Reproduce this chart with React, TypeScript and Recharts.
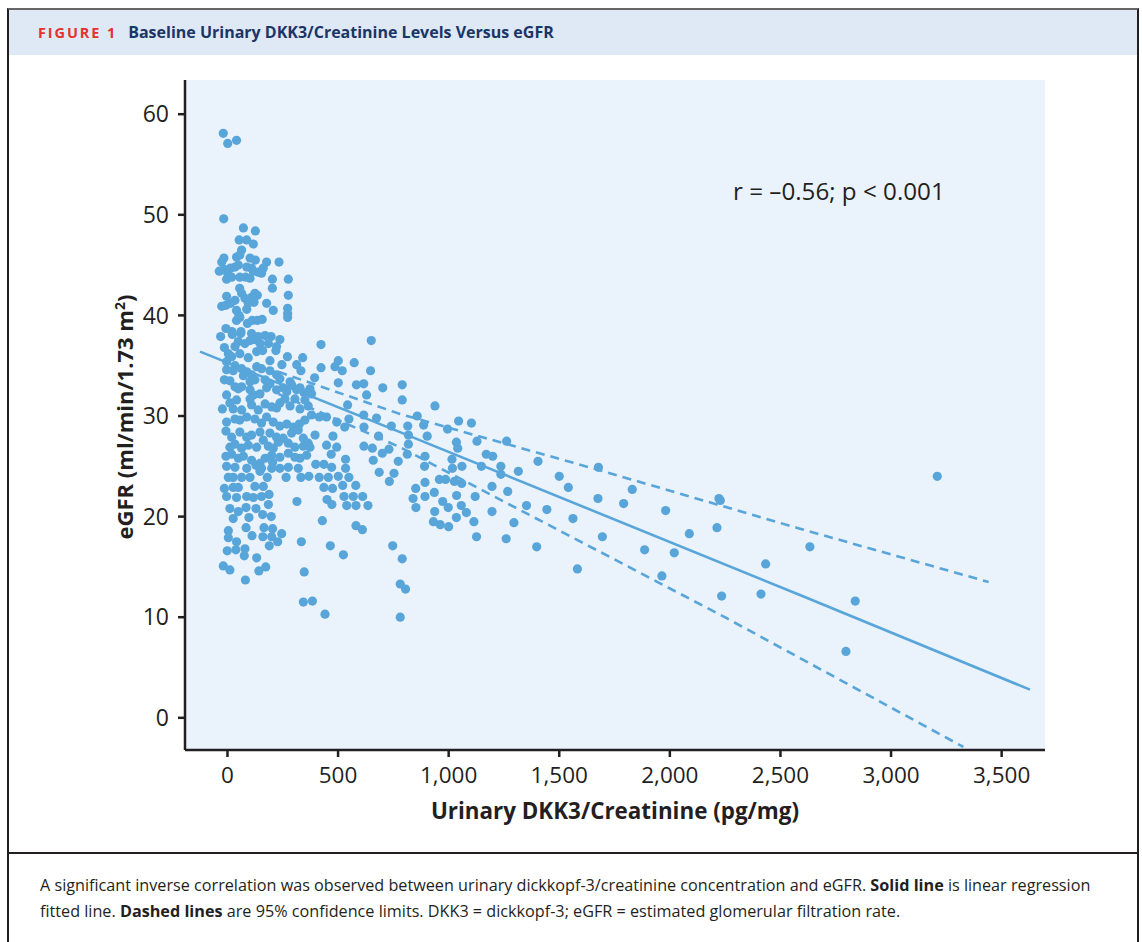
import React from 'react';
import {
  ScatterChart, Scatter, XAxis, YAxis, ZAxis, CartesianGrid,
} from 'recharts';

// [urinary DKK3/creatinine (pg/mg), eGFR (ml/min/1.73 m2)]
const upperCluster: [number, number][] = [
  [-19, 58.1], [1, 57.1], [41, 57.4], [-17, 49.6], [72, 48.7], [126, 48.4], [53, 47.5], [87, 47.5],
  [117, 47.1], [64, 46.5], [-16, 45.7], [-26, 45.3], [41, 45.8], [56, 46.0], [102, 45.7], [126, 45.5],
  [177, 45.3], [233, 45.3], [-37, 44.4], [-16, 44.6], [1, 44.2], [14, 44.7], [34, 44.8], [49, 45.0],
  [87, 44.8], [109, 44.7], [117, 44.4], [139, 44.3], [154, 44.2], [162, 44.7], [-4, 43.6], [19, 43.8],
  [56, 43.8], [82, 43.8], [102, 43.7], [203, 43.6], [275, 43.6], [203, 42.7], [275, 42.0], [55, 42.7],
  [64, 42.2], [79, 41.7], [94, 41.2], [109, 41.8], [124, 42.2], [135, 42.0], [120, 41.3], [-4, 41.9],
  [-26, 40.9], [-7, 41.0], [14, 41.2], [34, 41.5], [177, 41.2], [207, 40.5], [272, 40.7], [272, 40.2],
  [272, 39.8], [41, 40.5], [52, 40.0], [87, 40.6], [41, 39.5], [56, 39.8], [90, 39.2], [112, 39.5],
  [135, 39.5], [157, 39.6], [-7, 38.7], [20, 38.4], [60, 38.2],
];

const middleCluster: [number, number][] = [
  [-31, 37.9], [22, 38.1], [61, 38.4], [109, 38.2], [139, 37.9], [170, 38.0], [197, 37.9], [237, 37.6],
  [-14, 36.8], [4, 36.2], [34, 36.9], [49, 37.4], [79, 37.2], [102, 37.5], [124, 37.6], [147, 37.2],
  [185, 37.2], [222, 36.9], [219, 36.5], [423, 37.1], [650, 37.5],
  [19, 35.9], [56, 36.2], [94, 35.8], [132, 36.4], [159, 36.5], [192, 35.5], [271, 35.9], [340, 35.8],
  [313, 35.1], [246, 35.1], [-4, 35.4], [34, 35.0], [423, 34.8], [501, 35.5], [486, 34.9], [519, 34.5],
  [573, 35.3], [647, 34.5],
  [-4, 34.6], [26, 34.5], [64, 34.7], [87, 34.4], [109, 34.1], [132, 34.9], [154, 34.7], [192, 34.5],
  [222, 34.1], [237, 33.7], [283, 33.4], [332, 34.5], [394, 33.8], [-14, 33.6], [11, 33.5], [34, 32.9],
  [72, 34.0], [102, 33.4], [124, 33.6], [170, 33.6], [192, 33.2], [501, 33.3], [583, 33.1], [616, 33.2],
  [790, 33.1],
  [-4, 32.1], [49, 32.7], [64, 32.9], [102, 32.6], [117, 32.1], [147, 32.2], [177, 32.8], [222, 32.6],
  [252, 32.8], [268, 32.4], [290, 33.1], [313, 32.6], [328, 32.8], [346, 32.3], [373, 32.7], [380, 32.2],
  [629, 32.1], [702, 32.8], [790, 31.6],
  [-23, 30.7], [11, 31.3], [41, 31.6], [26, 30.7], [64, 30.6], [102, 31.7], [109, 31.1], [139, 30.6],
  [170, 31.2], [200, 30.9], [222, 30.8], [237, 31.3], [260, 31.7], [283, 31.0], [305, 31.7], [328, 30.7],
  [350, 31.6], [365, 31.0], [543, 31.1], [938, 31.0],
  [-4, 29.4], [34, 29.7], [56, 29.6], [87, 29.9], [124, 29.7], [154, 29.3], [177, 29.9], [207, 29.4],
  [237, 29.0], [268, 29.2], [298, 28.9], [325, 29.2], [350, 29.6], [380, 30.1], [415, 29.9], [448, 29.9],
  [494, 29.4], [530, 28.9], [549, 29.7], [616, 30.1], [674, 29.8], [617, 28.9], [741, 29.0], [815, 29.0],
  [858, 30.0], [887, 29.1], [1045, 29.5], [1103, 29.3],
  [-7, 28.5], [19, 27.9], [56, 28.4], [87, 27.9], [109, 28.1], [147, 28.4], [162, 27.6], [192, 28.3],
  [222, 27.9], [252, 27.8], [290, 28.3], [320, 28.6], [343, 27.8], [365, 27.3], [396, 28.1], [11, 26.9],
  [34, 27.2], [64, 26.8], [94, 27.1], [132, 26.9], [185, 27.0], [207, 26.8], [230, 27.4], [275, 27.3],
  [305, 26.9], [343, 27.0], [373, 26.9], [448, 27.1], [477, 28.0], [494, 26.9], [617, 27.0], [655, 26.8],
  [683, 28.0], [700, 26.3], [730, 26.7], [818, 27.2], [818, 28.1], [903, 28.0], [995, 28.7], [1035, 27.4],
  [1041, 26.8], [1128, 27.5],
];

const lowerCluster: [number, number][] = [
  [-7, 26.0], [19, 26.2], [49, 25.8], [72, 26.0], [109, 25.6], [147, 25.3], [170, 25.8], [200, 26.1],
  [237, 25.9], [275, 26.3], [305, 25.9], [328, 25.8], [358, 26.1], [469, 26.2], [534, 25.7], [659, 25.6],
  [772, 25.5], [813, 26.2], [893, 26.0], [1015, 25.7], [-4, 25.0], [34, 24.9], [87, 24.8], [129, 25.1],
  [154, 24.8], [204, 25.4], [237, 24.8], [275, 24.9], [320, 24.8], [399, 25.2], [436, 25.2], [471, 24.9],
  [534, 24.8], [891, 25.0], [1017, 24.8], [1060, 25.0],
  [4, 23.9], [26, 23.9], [64, 23.9], [102, 23.9], [147, 24.5], [180, 23.9], [200, 24.8], [265, 23.9],
  [332, 23.9], [368, 24.0], [415, 23.9], [456, 23.9], [501, 24.0], [549, 23.9], [686, 24.4], [753, 24.3],
  [732, 23.5],
  [-14, 22.8], [26, 22.9], [49, 22.9], [87, 22.0], [124, 23.0], [162, 23.0], [188, 22.2], [154, 22.0],
  [117, 21.9], [41, 21.9], [-4, 22.0], [436, 22.9], [475, 22.8], [521, 23.1], [580, 23.1], [851, 22.8],
  [893, 23.4], [958, 23.7], [986, 23.7], [1026, 23.5], [1059, 23.3], [611, 22.0], [569, 22.0], [527, 22.0],
  [11, 20.8], [49, 20.5], [84, 20.9], [129, 20.8], [185, 21.2], [97, 19.9], [26, 19.8], [159, 20.2],
  [198, 20.0], [314, 21.5], [450, 21.7], [472, 21.2], [539, 21.1], [581, 21.1], [635, 21.1], [839, 21.8],
  [893, 22.0], [935, 22.4], [973, 21.5], [998, 20.9], [1036, 22.1], [1057, 21.1], [1080, 20.4], [1120, 22.0],
  [937, 20.5],
  [4, 18.6], [84, 18.9], [165, 18.9], [204, 18.8], [111, 18.1], [160, 18.0], [200, 18.0], [245, 18.3],
  [429, 19.6], [581, 19.1], [610, 18.7], [852, 20.9], [931, 19.5], [962, 19.2], [1000, 19.0], [1035, 19.9],
  [1114, 19.5],
  [4, 17.9], [41, 17.5], [79, 16.8], [132, 15.9], [189, 17.1], [227, 17.5], [334, 17.5], [465, 17.1],
  [747, 17.1], [1126, 18.0], [-1, 16.6], [38, 16.7], [76, 16.1],
  [-19, 15.1], [11, 14.7], [142, 14.6], [173, 15.0], [524, 16.2], [790, 15.8],
  [81, 13.7], [347, 14.5], [343, 11.5], [384, 11.6], [441, 10.3], [781, 13.3], [805, 12.8], [781, 10.0],
];

const tailPoints: [number, number][] = [
  [1170, 26.2], [1199, 26.0], [1148, 25.0], [1236, 25.0], [1236, 24.2], [1262, 27.5], [1315, 24.5],
  [1196, 23.0], [1267, 22.5], [1196, 20.5], [1352, 21.1], [1444, 20.7], [1295, 19.4], [1260, 17.8],
  [1398, 17.0], [1404, 25.5], [1500, 24.0], [1541, 22.9], [1562, 19.8], [1582, 14.8], [1677, 24.9],
  [1675, 21.8], [1695, 18.0], [1791, 21.3], [1830, 22.7], [1886, 16.7], [1964, 14.1], [1981, 20.6],
  [2020, 16.4], [2088, 18.3], [2213, 18.9], [2222, 21.8], [2228, 21.6], [2234, 12.1], [2412, 12.3],
  [2433, 15.3], [2633, 17.0], [2838, 11.6], [2796, 6.6], [3209, 24.0],
];

// regression line and 95% confidence limits
const fitLine: [number, number][] = [[-124, 36.4], [780, 28.4], [2588, 12.2], [3628, 2.8]];
const upperLimit: [number, number][] = [[230, 34.4], [780, 30.2], [1684, 24.6], [2588, 18.8], [3441, 13.5]];
const lowerLimit: [number, number][] = [[230, 32.2], [780, 26.9], [1684, 16.5], [2257, 9.9], [3327, -2.9]];

const xTicks = [0, 500, 1000, 1500, 2000, 2500, 3000, 3500];
const yTicks = [0, 10, 20, 30, 40, 50, 60];

const BLUE = '#58a5da';
const INK = '#231f20';
const FONT = '"Open Sans", "Noto Sans", sans-serif';

const toRows = (pts: [number, number][]) => pts.map(([x, y]) => ({ x, y }));

const dot = (p: any) => <circle cx={p.cx} cy={p.cy} r={4.6} fill={BLUE} />;
const noDot = () => <g />;

export default function App() {
  const points = toRows([...upperCluster, ...middleCluster, ...lowerCluster, ...tailPoints]);

  return (
    <div style={{ position: 'absolute', left: 0, top: 0, width: 1142, height: 942, background: '#fff', fontFamily: FONT, color: INK, overflow: 'hidden' }}>
      {/* figure frame */}
      <div style={{ position: 'absolute', left: 7, top: 8, width: 1132, height: 960, boxSizing: 'border-box', borderLeft: `2px solid ${INK}`, borderRight: `2px solid ${INK}`, borderTop: '2px solid #666' }} />
      <div style={{ position: 'absolute', left: 9, top: 10, width: 1128, height: 45, background: '#dee9f5' }} />
      <div style={{ position: 'absolute', left: 38, top: 21, whiteSpace: 'nowrap', fontWeight: 700 }}>
        <span style={{ color: '#e5322d', fontSize: 14.5, letterSpacing: 1.9 }}>FIGURE 1</span>
        <span style={{ color: '#1b3567', fontSize: 16, marginLeft: 11 }}>Baseline Urinary DKK3/Creatinine Levels Versus eGFR</span>
      </div>

      <div style={{ position: 'absolute', left: 0, top: 0 }}>
        <ScatterChart width={1142} height={852} margin={{ top: 80, right: 97, bottom: 42, left: 125 }}>
          <CartesianGrid horizontal={false} vertical={false} fill="#eaf2fb" stroke="none" />
          <XAxis
            type="number"
            dataKey="x"
            domain={[-192, 3696]}
            ticks={xTicks}
            height={60}
            tickFormatter={v => v.toLocaleString('en-US')}
            tick={{ fill: INK, fontSize: 22.5, fontFamily: FONT }}
            tickSize={7}
            tickMargin={10}
            axisLine={{ stroke: INK, strokeWidth: 2.5 }}
            tickLine={{ stroke: INK, strokeWidth: 2.5 }}
            allowDataOverflow
          />
          <YAxis
            type="number"
            dataKey="y"
            domain={[-3.2, 63.4]}
            ticks={yTicks}
            width={60}
            tick={{ fill: INK, fontSize: 23, fontFamily: FONT }}
            tickSize={7}
            tickMargin={9}
            axisLine={{ stroke: INK, strokeWidth: 2.5 }}
            tickLine={{ stroke: INK, strokeWidth: 2.5 }}
            allowDataOverflow
          />
          <ZAxis range={[68, 68]} />
          <Scatter data={points} shape={dot} isAnimationActive={false} />
          <Scatter data={toRows(fitLine)} shape={noDot} line={{ stroke: BLUE, strokeWidth: 2.6 }} lineType="joint" isAnimationActive={false} />
          <Scatter data={toRows(upperLimit)} shape={noDot} line={{ stroke: BLUE, strokeWidth: 2.6, strokeDasharray: '9 6' }} lineType="joint" isAnimationActive={false} />
          <Scatter data={toRows(lowerLimit)} shape={noDot} line={{ stroke: BLUE, strokeWidth: 2.6, strokeDasharray: '9 6' }} lineType="joint" isAnimationActive={false} />
        </ScatterChart>
      </div>

      <div style={{ position: 'absolute', left: 733, top: 174, fontSize: 24.2, fontWeight: 500, whiteSpace: 'nowrap' }}>r = –0.56; p &lt; 0.001</div>
      <div style={{ position: 'absolute', left: 615, top: 795, transform: 'translateX(-50%)', fontSize: 22.4, fontWeight: 700, whiteSpace: 'nowrap' }}>
        Urinary DKK3/Creatinine (pg/mg)
      </div>
      <div style={{ position: 'absolute', left: 124, top: 417, transform: 'translate(-50%, -50%) rotate(-90deg)', fontSize: 22, fontWeight: 700, whiteSpace: 'nowrap' }}>
        eGFR (ml/min/1.73 m<sup style={{ fontSize: 14 }}>2</sup>)
      </div>

      <div style={{ position: 'absolute', left: 7, top: 852, width: 1132, height: 2, background: INK }} />
      <div style={{ position: 'absolute', left: 40, top: 872, fontSize: 16.2, lineHeight: '26px', whiteSpace: 'nowrap' }}>
        <div>A significant inverse correlation was observed between urinary dickkopf-3/creatinine concentration and eGFR. <b>Solid line</b> is linear regression</div>
        <div>fitted line. <b>Dashed lines</b> are 95% confidence limits. DKK3 = dickkopf-3; eGFR = estimated glomerular filtration rate.</div>
      </div>
    </div>
  );
}
